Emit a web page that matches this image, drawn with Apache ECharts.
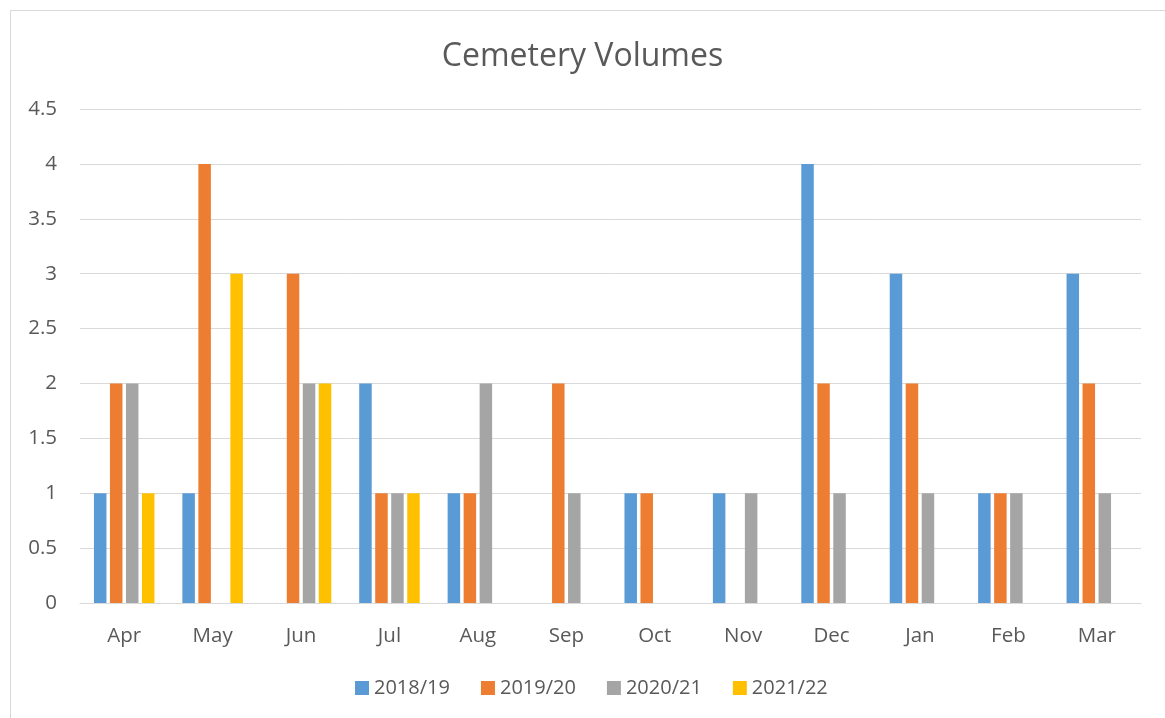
<!DOCTYPE html>
<html>
<head>
<meta charset="utf-8">
<script src="https://cdn.jsdelivr.net/npm/echarts@6/dist/echarts.min.js"></script>
<style>
html,body{margin:0;padding:0;background:#fff;}
#frame{position:absolute;left:10px;top:10px;width:1200px;height:800px;border-top:1px solid #d9d9d9;border-left:1px solid #d9d9d9;}
#main{position:absolute;left:0;top:0;width:1165px;height:718px;}
</style>
</head>
<body>
<div id="frame"></div>
<div id="main"></div>
<script>
const categories = ['Apr','May','Jun','Jul','Aug','Sep','Oct','Nov','Dec','Jan','Feb','Mar'];
const s2018 = [1,1,0,2,1,0,1,1,4,3,1,3];
const s2019 = [2,4,3,1,1,2,1,0,2,2,1,2];
const s2020 = [2,0,2,1,2,1,0,1,1,1,1,1];
const s2021 = [1,3,2,1,0,0,0,0,0,0,0,0];
const seriesNames = ['2018/19','2019/20','2020/21','2021/22'];
const colors = ['#5B9BD5','#ED7D31','#A5A5A5','#FFC000'];
const allData = [s2018,s2019,s2020,s2021];

const chart = echarts.init(document.getElementById('main'));
const font = '"Open Sans", "Noto Sans", sans-serif';
chart.setOption({
  animation:false,
  color: colors,
  textStyle:{fontFamily:font},
  title:{text:'Cemetery Volumes',left:'center',top:36,textStyle:{fontSize:32,fontWeight:'normal',color:'#595959',fontFamily:font}},
  legend:{bottom:15,left:350,itemWidth:14,itemHeight:14,itemGap:31,icon:'rect',
    textStyle:{fontSize:20,color:'#595959',fontFamily:font},data:seriesNames},
  grid:{left:80,right:24,top:109,bottom:115,containLabel:false},
  xAxis:{type:'category',data:categories,
    axisLine:{lineStyle:{color:'#d9d9d9',width:1}},axisTick:{show:false},
    axisLabel:{fontSize:20.5,color:'#595959',margin:23,fontFamily:font}},
  yAxis:{type:'value',min:0,max:4.5,interval:0.5,
    axisLine:{show:false},axisTick:{show:false},
    splitLine:{lineStyle:{color:'#d9d9d9',width:1}},
    axisLabel:{fontSize:20.5,color:'#595959',margin:23,fontFamily:font}},
  series: allData.map((d,i)=>({
    name:seriesNames[i],type:'bar',data:d,
    barWidth:12.5,barGap:'28%',
    itemStyle:{color:colors[i]}
  }))
});
</script>
</body>
</html>
